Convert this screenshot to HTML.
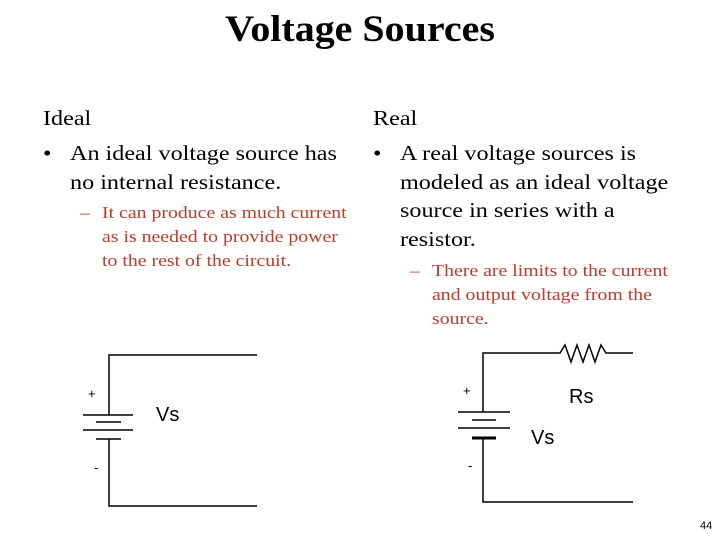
<!DOCTYPE html>
<html><head><style>
body{margin:0;width:720px;height:540px;background:#fff;position:relative;overflow:hidden;font-family:"Liberation Serif",serif}
.t{position:absolute;white-space:nowrap;transform-origin:0 0}
.red{color:#c0392b;font-size:16.5px;line-height:24px;transform:scaleX(1.2)}
.b{font-size:21px;line-height:29px;transform:scaleX(1.15)}
</style></head><body>
<div class="t" style="left:0;width:720px;text-align:center;top:8px;font-size:37px;font-weight:bold;transform:scaleX(1.08);transform-origin:360px 0">Voltage Sources</div>
<div class="t b" style="left:43px;top:104px">Ideal</div>
<div class="t b" style="left:43px;top:139px">•</div>
<div class="t b" style="left:70px;top:139px">An ideal voltage source has</div>
<div class="t b" style="left:70px;top:168px">no internal resistance.</div>
<div class="t red" style="left:80px;top:201px">–</div>
<div class="t red" style="left:102px;top:201px">It can produce as much current</div>
<div class="t red" style="left:102px;top:225px">as is needed to provide power</div>
<div class="t red" style="left:102px;top:249px">to the rest of the circuit.</div>
<div class="t b" style="left:373px;top:104px">Real</div>
<div class="t b" style="left:373px;top:139px">•</div>
<div class="t b" style="left:400px;top:139px">A real voltage sources is</div>
<div class="t b" style="left:400px;top:168px">modeled as an ideal voltage</div>
<div class="t b" style="left:400px;top:196px">source in series with a</div>
<div class="t b" style="left:400px;top:225px">resistor.</div>
<div class="t red" style="left:410px;top:259px">–</div>
<div class="t red" style="left:432px;top:259px">There are limits to the current</div>
<div class="t red" style="left:432px;top:283px">and output voltage from the</div>
<div class="t red" style="left:432px;top:307px">source.</div>
<svg width="720" height="540" style="position:absolute;left:0;top:0" font-family="Liberation Sans,sans-serif">
<g stroke="#000" stroke-width="1.5" fill="none">
<polyline points="257,355 109,355 109,415"/>
<polyline points="109,439 109,506 257,506"/>
<line x1="83" y1="415" x2="133" y2="415"/>
<line x1="96" y1="422" x2="121" y2="422"/>
<line x1="83" y1="430" x2="133" y2="430"/>
<line x1="96" y1="439" x2="121" y2="439"/>
<polyline points="483,412 483,353 560,353 565,345 571,362 577,345 583,362 589,345 595,362 601,345 606,353 633,353"/>
<polyline points="483,438 483,502 633,502"/>
<line x1="458" y1="412" x2="510" y2="412"/>
<line x1="472" y1="420" x2="496" y2="420"/>
<line x1="458" y1="428" x2="510" y2="428"/>
<line x1="472" y1="438" x2="496" y2="438" stroke-width="3"/>
</g>
<text x="88" y="398" font-size="13">+</text>
<text x="94" y="472" font-size="13">-</text>
<text x="156" y="421" font-size="20">Vs</text>
<text x="463" y="395" font-size="13">+</text>
<text x="468" y="470" font-size="13">-</text>
<text x="569" y="403" font-size="20">Rs</text>
<text x="531" y="444" font-size="20">Vs</text>
<text x="700" y="529" font-size="11">44</text>
</svg>
</body></html>
